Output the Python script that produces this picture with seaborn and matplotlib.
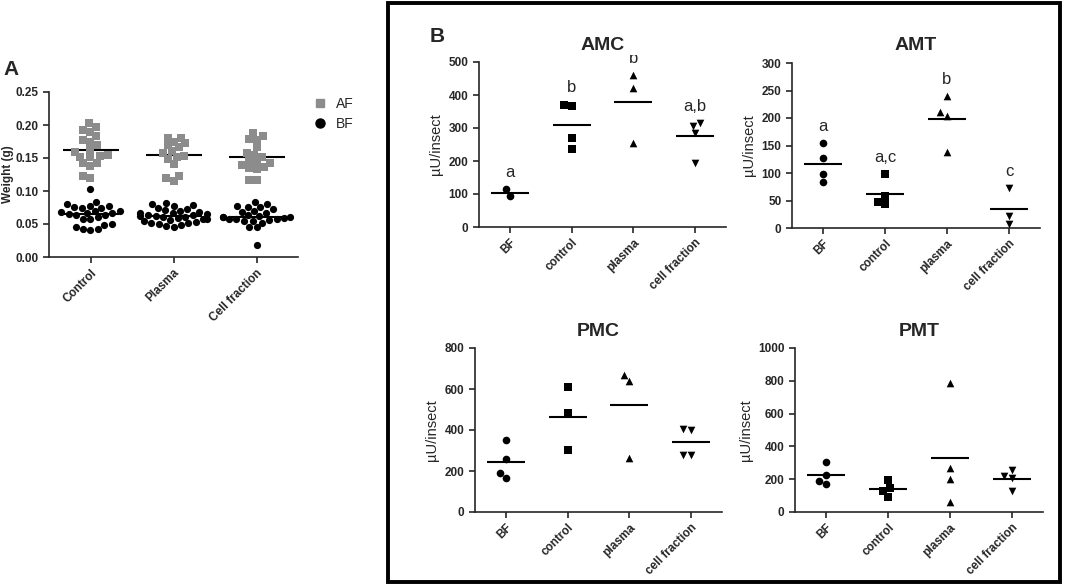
import numpy as np
import pandas as pd
import seaborn as sns
import matplotlib
matplotlib.use("Agg")
import matplotlib.pyplot as plt
from matplotlib.lines import Line2D
from matplotlib.patches import Rectangle
from matplotlib.transforms import Bbox, TransformedBbox

# ---- panel A: body weight (g) ----
treatments = ["Control", "Plasma", "Cell fraction"]
wt_control_af = [0.203, 0.197, 0.193, 0.190, 0.183, 0.177, 0.175, 0.169, 0.163, 0.159,
                 0.154, 0.153, 0.152, 0.151, 0.143, 0.142, 0.138, 0.123, 0.120]
wt_control_bf = [0.103, 0.083, 0.080, 0.078, 0.077, 0.076, 0.075, 0.074, 0.070, 0.069,
                 0.068, 0.067, 0.066, 0.065, 0.064, 0.063, 0.060, 0.058, 0.057, 0.050,
                 0.049, 0.046, 0.043, 0.042, 0.041]
wt_plasma_af = [0.181, 0.180, 0.175, 0.172, 0.169, 0.166, 0.160, 0.157, 0.153, 0.151,
                0.148, 0.141, 0.123, 0.119, 0.115]
wt_plasma_bf = [0.082, 0.080, 0.079, 0.078, 0.075, 0.073, 0.071, 0.070, 0.068, 0.067,
                0.066, 0.065, 0.064, 0.063, 0.062, 0.062, 0.061, 0.060, 0.059, 0.058,
                0.057, 0.056, 0.055, 0.053, 0.052, 0.051, 0.050, 0.049, 0.047, 0.046]
wt_cell_af = [0.188, 0.184, 0.179, 0.178, 0.167, 0.158, 0.155, 0.152, 0.146, 0.144,
              0.143, 0.140, 0.137, 0.135, 0.133, 0.117, 0.116]
wt_cell_bf = [0.083, 0.081, 0.077, 0.076, 0.076, 0.072, 0.070, 0.068, 0.066, 0.063,
              0.062, 0.061, 0.060, 0.060, 0.059, 0.058, 0.057, 0.057, 0.056, 0.055,
              0.054, 0.052, 0.046, 0.045, 0.018]

# ---- panel B: activity (µU/insect) ----
groups = ["BF", "control", "plasma", "cell fraction"]
amc_vals = [[94, 114], [367, 371, 269, 235], [460, 422, 254], [306, 314, 284, 193]]
amt_vals = [[154, 128, 99, 83], [98, 59, 43, 48], [240, 211, 203, 138], [72, 22, 8]]
pmc_vals = [[350, 260, 190, 167], [610, 485, 301], [667, 639, 263], [402, 405, 276, 280]]
pmt_vals = [[304, 227, 191, 172], [193, 146, 126, 91], [785, 268, 203, 61], [258, 217, 207, 126]]
amc_letters = ["a", "b", "b", "a,b"]
amt_letters = ["a", "a,c", "b", "c"]

sns.set_style("ticks")
plt.rcParams["font.family"] = ["Liberation Sans", "DejaVu Sans"]
plt.rcParams["axes.linewidth"] = 1.2
plt.rcParams["xtick.major.width"] = 1.2
plt.rcParams["ytick.major.width"] = 1.2
plt.rcParams["xtick.major.size"] = 4
plt.rcParams["ytick.major.size"] = 4

W, H = 1065, 587
fig = plt.figure(figsize=(W / 100, H / 100), dpi=100)


def px_axes(left, top, right, bottom):
    return fig.add_axes([left / W, 1 - bottom / H, (right - left) / W, (bottom - top) / H])


def style_axes(ax, fs=8.5):
    sns.despine(ax=ax)
    ax.set_xlabel("")
    for lab in ax.get_yticklabels():
        lab.set_fontweight("bold")
        lab.set_fontsize(fs)
    ax.set_xticks(ax.get_xticks())
    ax.set_xticklabels([t.get_text() for t in ax.get_xticklabels()], rotation=45,
                       ha="right", rotation_mode="anchor", fontsize=fs, fontweight="bold")
    ax.tick_params(axis="x", pad=3)


# ---------- panel A ----------
rows = []
for t, af, bf in zip(treatments, [wt_control_af, wt_plasma_af, wt_cell_af],
                     [wt_control_bf, wt_plasma_bf, wt_cell_bf]):
    rows += [(t, "AF", v) for v in af]
    rows += [(t, "BF", v) for v in bf]
df_a = pd.DataFrame(rows, columns=["treatment", "stage", "weight"])

axA = px_axes(49, 92, 298, 257)
sns.swarmplot(data=df_a[df_a.stage == "AF"], x="treatment", y="weight", order=treatments,
              marker="s", color="#8c8c8c", size=5.2, linewidth=0, ax=axA)
sns.swarmplot(data=df_a[df_a.stage == "BF"], x="treatment", y="weight", order=treatments,
              marker="o", color="black", size=5.2, linewidth=0, ax=axA)
for st in ["AF", "BF"]:
    sns.pointplot(data=df_a[df_a.stage == st], x="treatment", y="weight", order=treatments,
                  estimator="mean", errorbar=None, color="black", marker="_",
                  markersize=40, markeredgewidth=1.5, linestyle="none", ax=axA)
axA.set_xlim(-0.5, 2.5)
axA.set_ylim(0, 0.25)
axA.set_yticks(np.arange(0, 0.2501, 0.05))
axA.set_yticklabels([f"{v:.2f}" for v in np.arange(0, 0.2501, 0.05)])
axA.set_ylabel("Weight (g)", fontsize=8.5, fontweight="bold", labelpad=1)
style_axes(axA)

handles = [Line2D([], [], marker="s", color="#8c8c8c", linestyle="none", markersize=6),
           Line2D([], [], marker="o", color="black", linestyle="none", markersize=6.5)]
fig.legend(handles, ["AF", "BF"], loc="upper left", bbox_to_anchor=(301 / W, 1 - 84 / H),
           frameon=False, fontsize=10, handletextpad=0.6, labelspacing=0.45,
           handlelength=1.0)

fig.text(3 / W, 1 - 75 / H, "A", fontsize=15, fontweight="bold", va="baseline")

# ---------- panel B ----------
markers = ["o", "s", "^", "v"]


def activity_panel(box, vals, title, ymax, ystep, letters=None):
    ax = px_axes(*box)
    df = pd.DataFrame([(g, v) for g, vs in zip(groups, vals) for v in vs],
                      columns=["group", "value"])
    for g, m in zip(groups, markers):
        sns.swarmplot(data=df[df.group == g], x="group", y="value", order=groups,
                      marker=m, color="black", size=5.5, linewidth=0, ax=ax)
    sns.pointplot(data=df, x="group", y="value", order=groups, estimator="mean",
                  errorbar=None, color="black", marker="_", markersize=28,
                  markeredgewidth=1.5, linestyle="none", ax=ax)
    ax.set_xlim(-0.5, 3.5)
    ax.set_ylim(0, ymax)
    ax.set_yticks(np.arange(0, ymax + 1, ystep))
    ax.set_ylabel("µU/insect", fontsize=10.5, labelpad=4)
    ax.set_title(title, fontsize=14, fontweight="bold", pad=9)
    style_axes(ax)
    if letters:
        # letters that run past the top of the plot get trimmed, as in the figure
        clip = TransformedBbox(Bbox([[0, 0], [1, 1.04]]), ax.transAxes)
        for i, (lt, vs) in enumerate(zip(letters, vals)):
            txt = ax.text(i, max(vs) + 0.055 * ymax, lt, ha="center", va="bottom",
                          fontsize=12)
            txt.set_clip_box(clip)
            txt.set_clip_on(True)
    return ax


activity_panel((479, 62, 726, 227), amc_vals, "AMC", 500, 100, amc_letters)
activity_panel((792, 63, 1040, 228), amt_vals, "AMT", 300, 50, amt_letters)
activity_panel((475, 348, 722, 512), pmc_vals, "PMC", 800, 200)
activity_panel((795, 348, 1043, 512), pmt_vals, "PMT", 1000, 200)

fig.add_artist(Rectangle((388 / W, 1 - 582 / H), (1060 - 388) / W, (582 - 3) / H,
                         transform=fig.transFigure, fill=False, linewidth=2.8,
                         edgecolor="black"))
fig.text(430 / W, 1 - 42 / H, "B", fontsize=15, fontweight="bold", va="baseline")

fig.savefig("out.png", dpi=100)
